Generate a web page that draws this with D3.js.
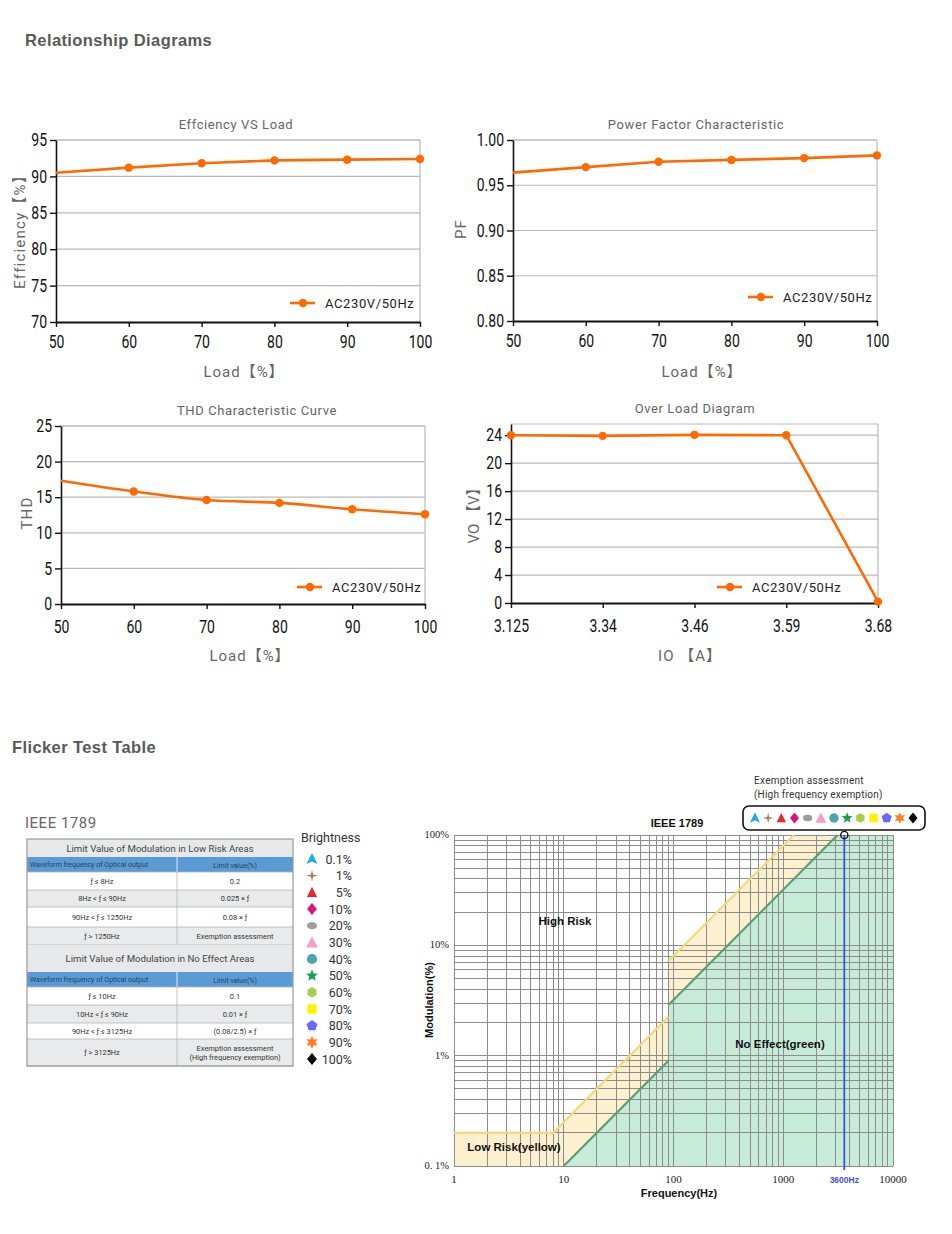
<!DOCTYPE html>
<html><head><meta charset="utf-8">
<script src="https://cdn.jsdelivr.net/npm/d3@7"></script>
<style>
html,body{margin:0;padding:0;background:#fff;}
svg{display:block;}
</style></head><body>
<svg id="c" width="952" height="1234"></svg>
<script>
// ---------- Relationship diagrams data ----------
const loadPct = [50, 60, 70, 80, 90, 100];
const efficiency = [90.5, 91.2, 91.8, 92.2, 92.3, 92.4];
const powerFactor = [0.964, 0.970, 0.976, 0.978, 0.980, 0.983];
const thdValues = [17.3, 15.8, 14.6, 14.2, 13.3, 12.6];
const ioCurrent = ["3.125", "3.34", "3.46", "3.59", "3.68"];
const voVoltage = [24.0, 23.9, 24.05, 24.0, 0.2];
const effTicks = [70, 75, 80, 85, 90, 95];
const pfTicks = [0.80, 0.85, 0.90, 0.95, 1.00];
const thdTicks = [0, 5, 10, 15, 20, 25];
const voTicks = [0, 4, 8, 12, 16, 20, 24];
const loadTicks = [50, 60, 70, 80, 90, 100];
const seriesName = "AC230V/50Hz";

// ---------- Flicker data ----------
const lowRiskRows = [["ƒ ≤ 8Hz", "0.2"], ["8Hz <  ƒ ≤ 90Hz", "0.025 × ƒ"], ["90Hz <  ƒ ≤ 1250Hz", "0.08 × ƒ"], ["ƒ  > 1250Hz", "Exemption assessment"]];
const noEffectRows = [["ƒ ≤ 10Hz", "0.1"], ["10Hz <  ƒ ≤ 90Hz", "0.01 × ƒ"], ["90Hz <  ƒ ≤ 3125Hz", "(0.08/2.5) ×  ƒ"], ["ƒ  > 3125Hz", "Exemption assessment|(High frequency exemption)"]];
const brightnessLevels = ["0.1%", "1%", "5%", "10%", "20%", "30%", "40%", "50%", "60%", "70%", "80%", "90%", "100%"];
const brightnessShapes = ["arrow", "star4", "triangle", "diamond", "ellipse", "triangleBig", "circle", "star5", "hexagon", "square", "pentagon", "star6", "diamondBlack"];
const brightnessColors = ["#19a9ec", "#a87c64", "#e3262f", "#d9147f", "#9e9e9e", "#f79cc8", "#4aa4b2", "#13a14e", "#a5cf48", "#fff200", "#6a6af5", "#ff7b1c", "#000000"];
const freqTicks = [1, 10, 100, 1000, 10000];
const freqTickLabels = ["1", "10", "100", "1000", "10000"];
const modTicks = [0.1, 1, 10, 100];
const modTickLabels = ["0. 1%", "1%", "10%", "100%"];
const lowRiskFreq = [1, 8, 90, 90, 1250];
const lowRiskLimit = [0.2, 0.2, 2.25, 7.2, 100];
const noEffectFreq = [10, 90, 90, 3125];
const noEffectLimit = [0.1, 0.9, 2.88, 100];
const exemptFreq = 3600;

const svg = d3.select("#c");
const NUM = "Roboto,'Noto Sans',sans-serif";
const LBL = "Roboto,'Noto Sans','Noto Sans CJK SC',sans-serif";
const ORANGE = "#ff6a00";
const SX = 0.8;

// headers
svg.append("text").attr("x", 25).attr("y", 46).text("Relationship Diagrams")
  .attr("font-family", "Arial,'Liberation Sans',sans-serif").attr("font-weight", "bold").attr("font-size", 16.5).attr("fill", "#595959").attr("letter-spacing", 0.4);
svg.append("text").attr("x", 12).attr("y", 753).text("Flicker Test Table")
  .attr("font-family", "Arial,'Liberation Sans',sans-serif").attr("font-weight", "bold").attr("font-size", 16.5).attr("fill", "#595959").attr("letter-spacing", 0.4);

function narrow(sel) {
  sel.each(function () {
    const t = d3.select(this);
    const x = +t.attr("x") || 0;
    t.attr("x", x / SX).attr("transform", `scale(${SX},1)`);
  });
}

function lineChart(o) {
  const g = svg.append("g");
  const x = o.x, y = o.y;
  const [x0, x1] = x.range();
  const [yb, yt] = y.range();
  // grid
  g.selectAll(".gr").data(o.yTicks.filter(d => y(d) < yb - 1)).join("line")
    .attr("x1", x0).attr("x2", x1).attr("y1", d => y(d)).attr("y2", d => y(d))
    .attr("stroke", "#b9b9b9").attr("stroke-width", 1.2);
  g.append("line").attr("x1", x0).attr("x2", x1).attr("y1", yt).attr("y2", yt).attr("stroke", "#b9b9b9").attr("stroke-width", 1.2);
  g.append("line").attr("x1", x1).attr("x2", x1).attr("y1", yt).attr("y2", yb).attr("stroke", "#b9b9b9").attr("stroke-width", 1.2);
  // axes
  const ya = g.append("g").attr("transform", `translate(${x0},0)`)
    .call(d3.axisLeft(y).tickValues(o.yTicks).tickSize(6).tickSizeOuter(0).tickPadding(3).tickFormat(o.yFmt));
  ya.select(".domain").attr("stroke", "#111").attr("stroke-width", 1.6);
  ya.selectAll(".tick line").attr("stroke", "#111").attr("stroke-width", 1.4);
  ya.selectAll("text").attr("font-family", NUM).attr("font-size", 17.5).attr("fill", "#111").call(narrow);
  const xa = g.append("g").attr("transform", `translate(0,${yb})`)
    .call(d3.axisBottom(x).tickValues(o.xTicks).tickSize(5).tickSizeOuter(0).tickPadding(o.xPad));
  xa.select(".domain").attr("stroke", "#111").attr("stroke-width", 1.8);
  xa.selectAll(".tick line").attr("stroke", "#111").attr("stroke-width", 1.4);
  xa.selectAll("text").attr("font-family", NUM).attr("font-size", 17.5).attr("fill", "#111").call(narrow);
  // line
  const pts = o.xs.map((d, i) => [x(d), y(o.ys[i])]);
  g.append("path").attr("d", (o.curve ? d3.line().curve(d3.curveMonotoneX) : d3.line())(pts))
    .attr("fill", "none").attr("stroke", ORANGE).attr("stroke-width", 2.6);
  g.selectAll(".pt").data(pts.filter((d, i) => o.markAll || i > 0)).join("circle")
    .attr("cx", d => d[0]).attr("cy", d => d[1]).attr("r", 4.2).attr("fill", ORANGE);
  // title
  g.append("text").attr("x", o.titleX).attr("y", yt - 11).attr("text-anchor", "middle").text(o.title)
    .attr("font-family", LBL).attr("font-size", 13).attr("fill", "#666").attr("letter-spacing", 0.6);
  // x label
  g.append("text").attr("x", o.xLabelX).attr("y", o.xLabelY).attr("text-anchor", "middle").text(o.xLabel)
    .attr("font-family", LBL).attr("font-size", 15).attr("fill", "#666").attr("letter-spacing", 1);
  // y label
  g.append("text").attr("transform", `translate(${o.yLabelX},${o.yLabelY}) rotate(-90)`).attr("text-anchor", "middle").text(o.yLabel)
    .attr("font-family", LBL).attr("font-size", 15).attr("fill", "#666").attr("letter-spacing", o.yLabelSpacing ?? 1.2);
  // legend
  const lx = o.legX, ly = o.legY;
  g.append("line").attr("x1", lx).attr("x2", lx + 25).attr("y1", ly).attr("y2", ly).attr("stroke", ORANGE).attr("stroke-width", 2.6);
  g.append("circle").attr("cx", lx + 13).attr("cy", ly).attr("r", 4.2).attr("fill", ORANGE);
  g.append("text").attr("x", lx + 35).attr("y", ly + 4.5).text(seriesName)
    .attr("font-family", LBL).attr("font-size", 13).attr("fill", "#222").attr("letter-spacing", 0.6);
}

lineChart({
  x: d3.scaleLinear().domain([50, 100]).range([56, 420]),
  y: d3.scaleLinear().domain([70, 95]).range([322, 140]),
  xs: loadPct, ys: efficiency, xTicks: loadTicks, yTicks: effTicks, yFmt: d3.format("d"), xPad: 9,
  title: "Effciency VS Load", titleX: 236, xLabel: "Load【%】", xLabelX: 244, xLabelY: 377,
  yLabel: "Efficiency【%】", yLabelX: 25, yLabelY: 228, legX: 290, legY: 303
});
lineChart({
  x: d3.scaleLinear().domain([50, 100]).range([513, 877]),
  y: d3.scaleLinear().domain([0.80, 1.00]).range([321, 140]),
  xs: loadPct, ys: powerFactor, xTicks: loadTicks, yTicks: pfTicks, yFmt: d3.format(".2f"), xPad: 9,
  title: "Power Factor Characteristic", titleX: 696, xLabel: "Load【%】", xLabelX: 702, xLabelY: 377,
  yLabel: "PF", yLabelX: 466, yLabelY: 229, legX: 748, legY: 297
});
lineChart({
  x: d3.scaleLinear().domain([50, 100]).range([61, 425]),
  y: d3.scaleLinear().domain([0, 25]).range([604, 426]),
  xs: loadPct, ys: thdValues, xTicks: loadTicks, yTicks: thdTicks, yFmt: d3.format("d"), curve: true, xPad: 12,
  title: "THD Characteristic Curve", titleX: 257, xLabel: "Load【%】", xLabelX: 250, xLabelY: 661,
  yLabel: "THD", yLabelX: 32, yLabelY: 513, legX: 297, legY: 587
});
lineChart({
  x: d3.scalePoint().domain(ioCurrent).range([511, 878]),
  y: d3.scaleLinear().domain([0, 25.6]).range([603, 424]),
  xs: ioCurrent, ys: voVoltage, xTicks: ioCurrent, yTicks: voTicks, yFmt: d3.format("d"), markAll: true, xPad: 12,
  title: "Over Load Diagram", titleX: 695, xLabel: "IO 【A】", xLabelX: 690, xLabelY: 661,
  yLabel: "VO 【V】", yLabelX: 479, yLabelY: 512, yLabelSpacing: 0, legX: 717, legY: 587
});

// ---------- IEEE 1789 table ----------
svg.append("text").attr("x", 25).attr("y", 828).text("IEEE 1789")
  .attr("font-family", LBL).attr("font-size", 15).attr("fill", "#666").attr("letter-spacing", 0.5);
const TX0 = 27, TX1 = 293, TC = 177;
const tg = svg.append("g").attr("font-family", LBL);
function tableSection(y0, titleH, title, rows, rowHs) {
  tg.append("rect").attr("x", TX0).attr("y", y0).attr("width", TX1 - TX0).attr("height", titleH).attr("fill", "#e7e8ea");
  tg.append("text").attr("x", (TX0 + TX1) / 2).attr("y", y0 + titleH / 2 + 3.5).attr("text-anchor", "middle").text(title)
    .attr("font-size", 9.6).attr("fill", "#444");
  let y = y0 + titleH;
  tg.append("rect").attr("x", TX0).attr("y", y).attr("width", TX1 - TX0).attr("height", 15).attr("fill", "#5b9bd5");
  tg.append("text").attr("x", TX0 + 3).attr("y", y + 10).text("Waveform frequency of Optical output").attr("font-size", 7).attr("fill", "#2a3f5a");
  tg.append("text").attr("x", (TC + TX1) / 2).attr("y", y + 10.5).attr("text-anchor", "middle").text("Limit value(%)").attr("font-size", 7).attr("fill", "#2a3f5a");
  tg.append("line").attr("x1", TC).attr("x2", TC).attr("y1", y).attr("y2", y + 15).attr("stroke", "#fff").attr("stroke-width", 0.8);
  y += 15;
  rows.forEach((r, i) => {
    const h = rowHs[i];
    tg.append("rect").attr("x", TX0).attr("y", y).attr("width", TX1 - TX0).attr("height", h).attr("fill", i % 2 ? "#e9eaec" : "#ffffff");
    tg.append("line").attr("x1", TX0).attr("x2", TX1).attr("y1", y).attr("y2", y).attr("stroke", "#b5b5b5").attr("stroke-width", 0.8);
    tg.append("line").attr("x1", TC).attr("x2", TC).attr("y1", y).attr("y2", y + h).attr("stroke", "#b5b5b5").attr("stroke-width", 0.8);
    tg.append("text").attr("x", (TX0 + TC) / 2).attr("y", y + h / 2 + 2.8).attr("text-anchor", "middle").text(r[0]).attr("font-size", 7.4).attr("fill", "#333");
    const parts = r[1].split("|");
    parts.forEach((p, k) => {
      tg.append("text").attr("x", (TC + TX1) / 2).attr("y", y + h / 2 + 2.8 + (k - (parts.length - 1) / 2) * 9).attr("text-anchor", "middle").text(p).attr("font-size", 7.4).attr("fill", "#333");
    });
    y += h;
  });
  tg.append("line").attr("x1", TX0).attr("x2", TX1).attr("y1", y).attr("y2", y).attr("stroke", "#b5b5b5").attr("stroke-width", 0.8);
  return y;
}
let ty = tableSection(839, 18, "Limit Value of Modulation in Low Risk Areas", lowRiskRows, [18, 17, 20, 18]);
ty = tableSection(ty, 27, "Limit Value of Modulation in No Effect Areas", noEffectRows, [18, 18, 16, 27]);
tg.append("rect").attr("x", TX0).attr("y", 839).attr("width", TX1 - TX0).attr("height", ty - 839)
  .attr("fill", "none").attr("stroke", "#9a9a9a").attr("stroke-width", 1.2);

// ---------- symbol shapes ----------
function starPath(n, ro, ri, rot) {
  const p = [];
  for (let i = 0; i < 2 * n; i++) {
    const a = rot + i * Math.PI / n, r = i % 2 ? ri : ro;
    p.push([r * Math.sin(a), -r * Math.cos(a)]);
  }
  return "M" + p.map(d => d[0].toFixed(2) + "," + d[1].toFixed(2)).join("L") + "Z";
}
function polyPath(n, r, rot) {
  const p = [];
  for (let i = 0; i < n; i++) { const a = rot + i * 2 * Math.PI / n; p.push([r * Math.sin(a), -r * Math.cos(a)]); }
  return "M" + p.map(d => d[0].toFixed(2) + "," + d[1].toFixed(2)).join("L") + "Z";
}
function marker(g, shape, color, cx, cy, s) {
  const t = g.append("g").attr("transform", `translate(${cx},${cy}) scale(${s})`);
  switch (shape) {
    case "arrow": t.append("path").attr("d", "M0,-7L6.5,6L0,3L-6.5,6Z").attr("fill", color); break;
    case "star4": t.append("path").attr("d", starPath(4, 7, 1.8, 0)).attr("fill", color); break;
    case "triangle": t.append("path").attr("d", "M0,-6.5L6,5.5L-6,5.5Z").attr("fill", color); break;
    case "triangleBig": t.append("path").attr("d", "M0,-7L7,6L-7,6Z").attr("fill", color); break;
    case "diamond": case "diamondBlack": t.append("path").attr("d", "M0,-7L5.8,0L0,7L-5.8,0Z").attr("fill", color); break;
    case "ellipse": t.append("ellipse").attr("rx", 6).attr("ry", 4.2).attr("fill", color); break;
    case "circle": t.append("circle").attr("r", 6).attr("fill", color); break;
    case "star5": t.append("path").attr("d", starPath(5, 7.5, 3.2, 0)).attr("fill", color); break;
    case "hexagon": t.append("path").attr("d", polyPath(6, 6.2, 0)).attr("fill", color); break;
    case "square": t.append("rect").attr("x", -5.5).attr("y", -5.5).attr("width", 11).attr("height", 11).attr("fill", color); break;
    case "pentagon": t.append("path").attr("d", polyPath(5, 6.8, 0)).attr("fill", color); break;
    case "star6": t.append("path").attr("d", starPath(6, 7.5, 3.8, 0)).attr("fill", color); break;
  }
}

// brightness legend
const bg = svg.append("g").attr("font-family", LBL);
bg.append("text").attr("x", 301).attr("y", 842).text("Brightness").attr("font-size", 12.5).attr("fill", "#333");
const legY = d3.scalePoint().domain(brightnessLevels).range([859, 1059]);
brightnessLevels.forEach((lv, i) => {
  marker(bg, brightnessShapes[i], brightnessColors[i], 312, legY(lv), 0.85);
  bg.append("text").attr("x", 352).attr("y", legY(lv) + 4.5).attr("text-anchor", "end").text(lv).attr("font-size", 12.5).attr("fill", "#333");
});

// ---------- IEEE 1789 log chart ----------
const fx = d3.scaleLog().domain([1, 10000]).range([454, 893]);
const my = d3.scaleLog().domain([0.1, 100]).range([1166, 835]);
const cg = svg.append("g");
const lineFn = d3.line().x(d => fx(d[0])).y(d => my(d[1]));
// fills
const greenPoly = [...noEffectFreq.map((f, i) => [f, noEffectLimit[i]]), [10000, 100], [10000, 0.1]];
const yellowPoly = [[1, 0.1], ...lowRiskFreq.map((f, i) => [f, lowRiskLimit[i]]), [noEffectFreq[3], 100], ...noEffectFreq.map((f, i) => [f, noEffectLimit[i]]).reverse().slice(1)];
cg.append("path").attr("d", lineFn(yellowPoly) + "Z").attr("fill", "#fdf0cf");
cg.append("path").attr("d", lineFn(greenPoly) + "Z").attr("fill", "#c7ebd9");
// grid
const xGrid = [], yGrid = [];
[1, 10, 100, 1000].forEach(d => { for (let k = 1; k < 10; k++) xGrid.push(d * k); });
xGrid.push(10000);
[0.1, 1, 10].forEach(d => { for (let k = 1; k < 10; k++) yGrid.push(d * k); });
yGrid.push(100);
cg.selectAll(".gx").data(xGrid).join("line").attr("x1", d => fx(d)).attr("x2", d => fx(d)).attr("y1", my(100)).attr("y2", my(0.1))
  .attr("stroke", "#8c8c8c").attr("stroke-width", 1).attr("shape-rendering", "crispEdges");
cg.selectAll(".gy").data(yGrid).join("line").attr("y1", d => my(d)).attr("y2", d => my(d)).attr("x1", fx(1)).attr("x2", fx(10000))
  .attr("stroke", "#8c8c8c").attr("stroke-width", 1).attr("shape-rendering", "crispEdges");
// boundary lines
const yl = lowRiskFreq.map((f, i) => [f, lowRiskLimit[i]]);
cg.append("path").attr("d", lineFn(yl.slice(0, 3))).attr("fill", "none").attr("stroke", "#f6d77e").attr("stroke-width", 2.2);
cg.append("path").attr("d", lineFn(yl.slice(3))).attr("fill", "none").attr("stroke", "#f6d77e").attr("stroke-width", 2.2);
const gl = noEffectFreq.map((f, i) => [f, noEffectLimit[i]]);
cg.append("path").attr("d", lineFn(gl.slice(0, 2))).attr("fill", "none").attr("stroke", "#5c9e6d").attr("stroke-width", 2.2);
cg.append("path").attr("d", lineFn(gl.slice(2))).attr("fill", "none").attr("stroke", "#5c9e6d").attr("stroke-width", 2.2);
// 3600Hz line
cg.append("line").attr("x1", fx(exemptFreq)).attr("x2", fx(exemptFreq)).attr("y1", my(100)).attr("y2", my(0.1) + 4)
  .attr("stroke", "#3d4fdc").attr("stroke-width", 1.8);
cg.append("circle").attr("cx", fx(exemptFreq)).attr("cy", my(100)).attr("r", 3.6).attr("fill", "none").attr("stroke", "#111").attr("stroke-width", 1.4);
// tick labels
const SERIF = "'Liberation Serif','DejaVu Serif',serif";
const ARIAL = "Arial,'Liberation Sans',sans-serif";
freqTicks.forEach((f, i) => {
  cg.append("text").attr("x", fx(f)).attr("y", 1183).attr("text-anchor", "middle").text(freqTickLabels[i])
    .attr("font-family", SERIF).attr("font-size", 11).attr("fill", "#222");
});
modTicks.forEach((m, i) => {
  cg.append("text").attr("x", 449).attr("y", my(m) + 3).attr("text-anchor", "end").text(modTickLabels[i])
    .attr("font-family", SERIF).attr("font-size", 10.5).attr("fill", "#222");
});
cg.append("text").attr("x", fx(exemptFreq)).attr("y", 1183).attr("text-anchor", "middle").text("3600Hz")
  .attr("font-family", ARIAL).attr("font-weight", "bold").attr("font-size", 8.5).attr("fill", "#3d4fdc");
cg.append("text").attr("x", 679).attr("y", 1197).attr("text-anchor", "middle").text("Frequency(Hz)")
  .attr("font-family", ARIAL).attr("font-weight", "bold").attr("font-size", 11).attr("fill", "#111");
cg.append("text").attr("transform", "translate(433,1000) rotate(-90)").attr("text-anchor", "middle").text("Modulation(%)")
  .attr("font-family", ARIAL).attr("font-weight", "bold").attr("font-size", 11).attr("fill", "#111");
cg.append("text").attr("x", 677).attr("y", 827).attr("text-anchor", "middle").text("IEEE 1789")
  .attr("font-family", ARIAL).attr("font-weight", "bold").attr("font-size", 11).attr("fill", "#111");
cg.append("text").attr("x", 565).attr("y", 925).attr("text-anchor", "middle").text("High Risk")
  .attr("font-family", ARIAL).attr("font-weight", "bold").attr("font-size", 11.5).attr("fill", "#111");
cg.append("text").attr("x", 780).attr("y", 1048).attr("text-anchor", "middle").text("No Effect(green)")
  .attr("font-family", ARIAL).attr("font-weight", "bold").attr("font-size", 11.5).attr("fill", "#111");
cg.append("text").attr("x", 514).attr("y", 1151).attr("text-anchor", "middle").text("Low Risk(yellow)")
  .attr("font-family", ARIAL).attr("font-weight", "bold").attr("font-size", 11.5).attr("fill", "#111");
// callout
cg.append("text").attr("x", 754).attr("y", 784).text("Exemption assessment").attr("font-family", LBL).attr("font-size", 10).attr("fill", "#333").attr("letter-spacing", 0.3);
cg.append("text").attr("x", 754).attr("y", 798).text("(High frequency exemption)").attr("font-family", LBL).attr("font-size", 10).attr("fill", "#333").attr("letter-spacing", 0.2);
cg.append("rect").attr("x", 743).attr("y", 806).attr("width", 182).attr("height", 24).attr("rx", 6)
  .attr("fill", "#fff").attr("stroke", "#111").attr("stroke-width", 1.6);
const calloutX = d3.scalePoint().domain(brightnessLevels).range([755, 913]);
brightnessLevels.forEach((lv, i) => marker(cg, brightnessShapes[i], brightnessColors[i], calloutX(lv), 818, 0.78));
</script>
</body></html>
